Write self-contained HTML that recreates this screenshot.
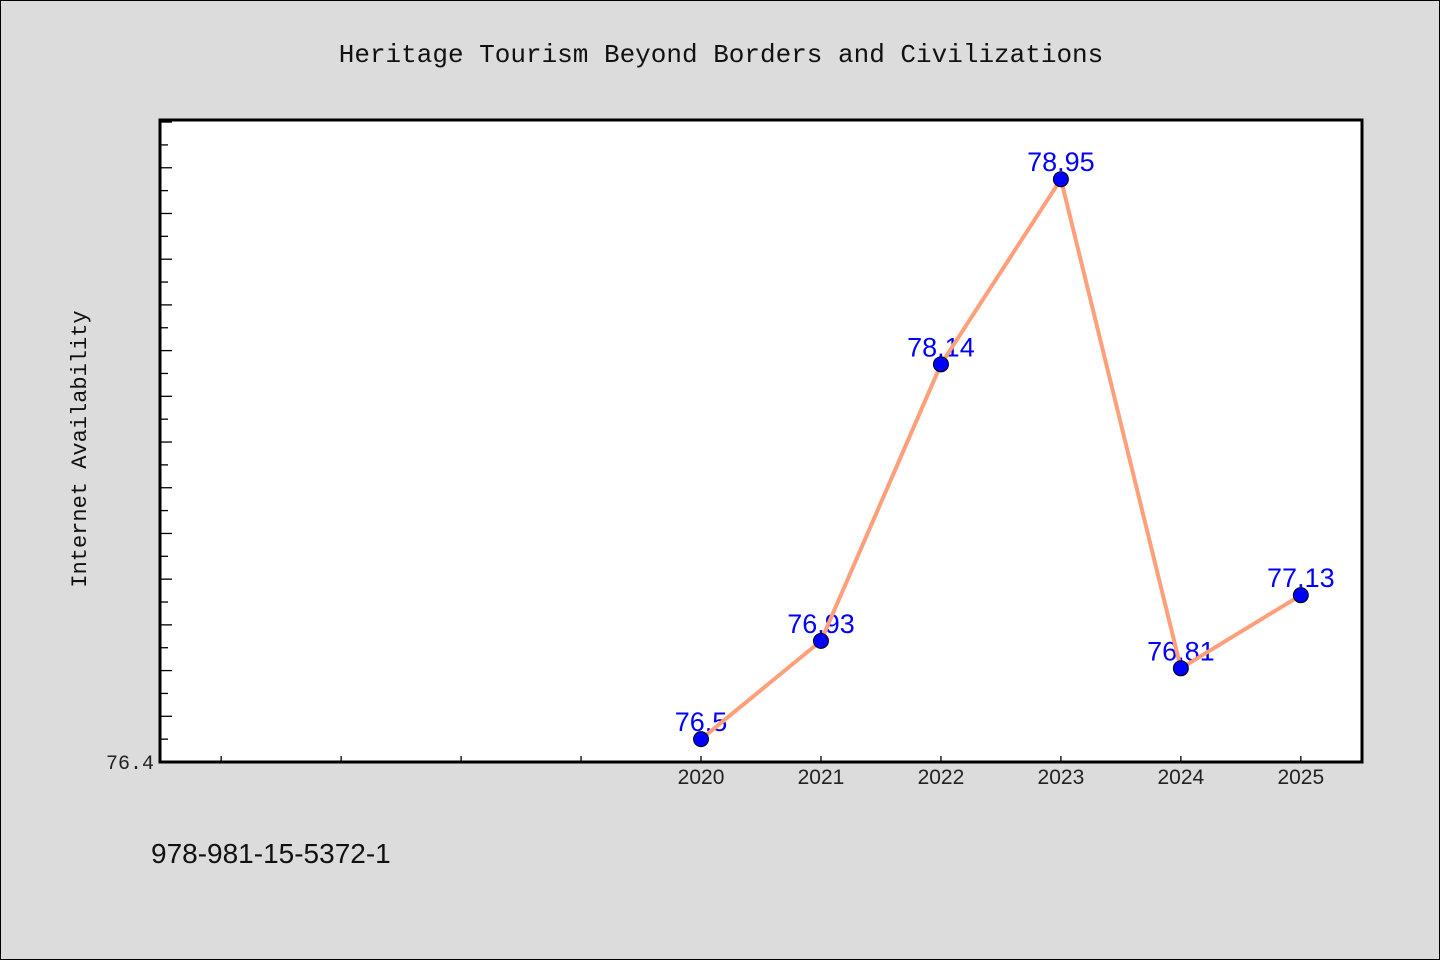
<!DOCTYPE html>
<html><head><meta charset="utf-8"><style>
html,body{margin:0;padding:0;background:#dcdcdc;}
#wrap{position:relative;width:1440px;height:960px;box-sizing:border-box;border:1px solid #000;background:#dcdcdc;overflow:hidden;}
svg{position:absolute;left:0;top:0;}
text{font-family:"Liberation Mono","DejaVu Sans Mono",monospace;}
</style></head><body>
<div id="wrap">
<svg id="chart" width="1440" height="960">
<text x="720" y="61" text-anchor="middle" font-size="26" fill="#111">Heritage Tourism Beyond Borders and Civilizations</text>
<rect x="159" y="119" width="1202" height="642" fill="#fff"/>
<text transform="translate(85,448) rotate(-90)" text-anchor="middle" font-size="22" fill="#111">Internet Availability</text>
<text x="150" y="862" font-size="28" fill="#111" style="font-family:'Liberation Sans',sans-serif">978-981-15-5372-1</text>
<g id="ticks"></g><g id="labels"></g><g id="series"></g>
<rect x="159" y="119" width="1202" height="642" fill="none" stroke="#000" stroke-width="3"/>
</svg></div>
<script>
const years=[2020,2021,2022,2023,2024,2025];
const values=[76.5,76.93,78.14,78.95,76.81,77.13];
const valueLabels=["76.5","76.93","78.14","78.95","76.81","77.13"];
const xMinorTicks=[2016,2017,2018,2019];
const yLabelTicks=["76.4"];
const L=159,R=1361,T=119,B=761;
const xMin=2015.49,xMax=2025.51,yMin=76.4,yMax=79.209;
const xs=v=>L+(v-xMin)/(xMax-xMin)*(R-L);
const ys=v=>B-(v-yMin)/(yMax-yMin)*(B-T);
const NS="http://www.w3.org/2000/svg";
function mk(tag,attrs,parent){const e=document.createElementNS(NS,tag);for(const k in attrs)e.setAttribute(k,attrs[k]);parent.appendChild(e);return e;}
const tg=document.getElementById('ticks'),lg=document.getElementById('labels'),sg=document.getElementById('series');
// y ticks every 0.1
for(let i=1;;i++){const v=yMin+i*0.1;if(v>yMax)break;const y=ys(v);const major=(Math.round(v*10)%2===0);
const t=mk('line',{x1:L,x2:L+(major?12:8),y1:y,y2:y,stroke:'#000','stroke-width':1.3},tg);

}
yLabelTicks.forEach(s=>{const t=mk('text',{x:L-6,y:ys(parseFloat(s))+7,'text-anchor':'end','font-size':20,fill:'#222'},lg);t.textContent=s;

});
xMinorTicks.concat(years).forEach(v=>{const x=xs(v);const t=mk('line',{x1:x,x2:x,y1:B,y2:B-6,stroke:'#000','stroke-width':1.3},tg);

});
years.forEach(v=>{const t=mk('text',{x:xs(v),y:B+22,'text-anchor':'middle','font-size':21,fill:'#222',style:"font-family:'Liberation Sans',sans-serif"},lg);t.textContent=v;

});
years.forEach((yr,i)=>{const t=mk('text',{x:xs(yr),y:ys(values[i])-8,'text-anchor':'middle','font-size':27,fill:'#0000ff',style:"font-family:'Liberation Sans',sans-serif"},sg);t.textContent=valueLabels[i];

});
const pl=mk('polyline',{points:years.map((yr,i)=>xs(yr)+','+ys(values[i])).join(' '),fill:'none',stroke:'#ffa07a','stroke-width':4,'stroke-linejoin':'round'},sg);


years.forEach((yr,i)=>{const c=mk('circle',{cx:xs(yr),cy:ys(values[i]),r:7.5,fill:'#0000ff',stroke:'#000','stroke-width':1},sg);

});
</script>
</body></html>
